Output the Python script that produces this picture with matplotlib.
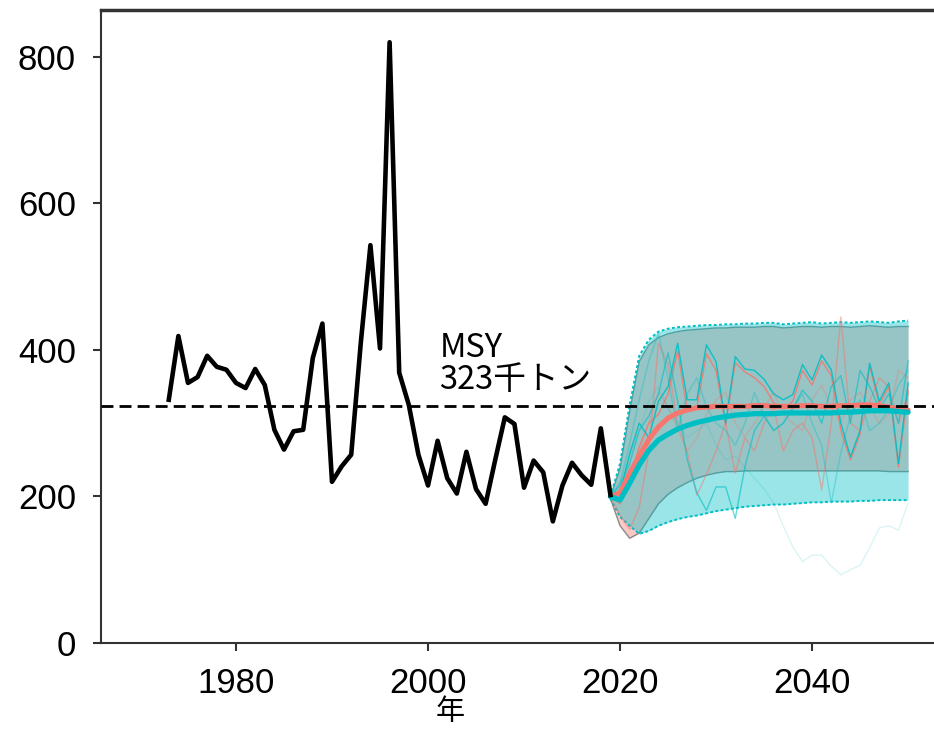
import matplotlib
matplotlib.use("Agg")
import matplotlib.pyplot as plt
import numpy as np

plt.rcParams['font.family'] = ['Liberation Sans', 'Noto Sans CJK JP', 'DejaVu Sans']

# historical catch (thousand t)
hist_years = list(range(1973, 2020))
hist_vals = [332, 419, 355, 363, 392, 377, 373, 355, 348, 374,
             352, 291, 264, 289, 291, 389, 436, 220, 241, 257,
             410, 543, 402, 820, 369, 325, 257, 215, 276, 225,
             204, 261, 210, 190, 250, 308, 299, 212, 249, 233,
             166, 215, 246, 229, 216, 293, 202]

msy = 323

# projections 2019-2050
proj_years = list(range(2019, 2051))
sal_med = [200, 205, 232, 255, 278, 295, 307, 314, 318, 321, 322, 323, 323, 323, 323, 324,
           324, 323, 323, 323, 324, 324, 323, 323, 324, 324, 325, 325, 324, 322, 320, 318]
sal_lo = [197, 160, 143, 150, 170, 190, 203, 212, 219, 225, 229, 232, 234, 234, 235, 235,
          235, 235, 235, 235, 235, 235, 235, 235, 235, 235, 235, 235, 235, 234, 234, 234]
sal_hi = [200, 238, 316, 384, 407, 417, 422, 425, 427, 428, 429, 430, 430, 431, 431, 431,
          432, 432, 430, 431, 432, 432, 431, 432, 432, 431, 432, 433, 432, 431, 432, 432]
teal_med = [200, 195, 218, 243, 263, 277, 285, 292, 297, 301, 304, 307, 309, 311, 312, 313,
            313, 313, 314, 314, 314, 314, 314, 314, 315, 315, 316, 317, 317, 317, 316, 315]
teal_lo = [197, 172, 160, 149, 153, 160, 165, 169, 172, 174, 177, 180, 182, 184, 186, 187,
           188, 189, 189, 190, 191, 192, 192, 193, 193, 193, 194, 194, 195, 195, 195, 195]
teal_hi = [200, 245, 325, 392, 414, 425, 429, 431, 432, 433, 434, 434, 435, 435, 436, 436,
           437, 437, 435, 436, 437, 438, 436, 437, 438, 437, 438, 439, 438, 437, 439, 440]

# a few individual simulation runs
sal_runs = [
    [200, 190, 225, 268, 300, 312, 340, 398, 318, 322, 395, 372, 298, 383, 370, 362,
     350, 328, 320, 330, 372, 352, 385, 365, 290, 250, 285, 378, 326, 350, 240, 345],
    [200, 175, 155, 185, 262, 409, 380, 300, 260, 202, 230, 262, 300, 232, 280, 262,
     300, 322, 262, 290, 300, 280, 209, 300, 445, 300, 290, 330, 362, 350, 300, 340],
    [200, 195, 222, 262, 302, 342, 322, 292, 262, 280, 312, 332, 342, 300, 282, 300,
     322, 342, 312, 300, 290, 332, 352, 322, 300, 332, 342, 322, 300, 312, 372, 362],
]
sal_alpha = [0.85, 0.5, 0.3]
teal_runs = [
    [200, 205, 258, 300, 280, 330, 350, 409, 332, 332, 407, 384, 300, 391, 374, 372,
     360, 340, 332, 339, 380, 359, 393, 373, 300, 254, 290, 382, 330, 355, 245, 355],
    [200, 215, 245, 290, 310, 340, 396, 330, 250, 205, 181, 213, 213, 170, 240, 290,
     310, 290, 300, 320, 345, 330, 300, 350, 365, 300, 372, 350, 320, 340, 300, 385],
    [200, 218, 272, 332, 385, 423, 360, 290, 340, 362, 322, 300, 290, 270, 300, 342,
     310, 290, 300, 320, 340, 300, 270, 191, 260, 310, 332, 290, 300, 320, 352, 372],
    [200, 220, 255, 290, 330, 350, 320, 300, 280, 290, 300, 270, 250, 255, 240, 225,
     210, 191, 160, 131, 111, 120, 120, 105, 93, 100, 106, 130, 157, 160, 154, 191],
]
teal_alpha = [0.9, 0.6, 0.35, 0.15]

salmon = '#F8766D'
teal = '#00BFC4'

fig = plt.figure(figsize=(9.34, 7.30), dpi=100)
ax = fig.add_axes([101 / 934, 87 / 730, 833 / 934, 633 / 730])

# bands
ax.fill_between(proj_years, sal_lo, sal_hi, color=salmon, alpha=0.4, lw=0, zorder=1)
ax.plot(proj_years, sal_lo, color='#8a8a8a', lw=1.0, zorder=1.5)
ax.plot(proj_years, sal_hi, color='#8a8a8a', lw=1.0, zorder=1.5)
ax.fill_between(proj_years, teal_lo, teal_hi, color=teal, alpha=0.4, lw=0, zorder=2)
ax.plot(proj_years, teal_lo, color=teal, lw=1.4, ls=(0, (1.5, 1.2)), zorder=2.5)
ax.plot(proj_years, teal_hi, color=teal, lw=1.4, ls=(0, (1.5, 1.2)), zorder=2.5)

for run, a in zip(sal_runs, sal_alpha):
    ax.plot(proj_years, run, color=salmon, lw=1.0, alpha=a, zorder=3)
for run, a in zip(teal_runs, teal_alpha):
    ax.plot(proj_years, run, color=teal, lw=1.0, alpha=a, zorder=3)

ax.plot(proj_years, sal_med, color=salmon, lw=3.6, zorder=4, solid_capstyle='round')
ax.plot(proj_years, teal_med, color=teal, lw=3.8, zorder=4.5, solid_capstyle='round')

ax.plot(hist_years, hist_vals, color='black', lw=3.3, zorder=5)
ax.axhline(msy, color='black', lw=2, ls=(0, (4.3, 2.2)), zorder=6)

ax.text(2001.2, 337, 'MSY\n323千トン', fontsize=23.5, family=['Noto Sans CJK JP'],
        ha='left', va='bottom', linespacing=1.0)

ax.set_xlim(1965.94, 2052.7)
ax.set_ylim(0, 864)
ax.set_xticks([1980, 2000, 2020, 2040])
ax.set_yticks([0, 200, 400, 600, 800])
ax.tick_params(axis='both', labelsize=25, length=6, width=1.5, color='#333333')
ax.tick_params(axis='y', pad=12)
ax.tick_params(axis='x', pad=11)

for s in ['left', 'bottom']:
    ax.spines[s].set_color('#333333')
    ax.spines[s].set_linewidth(1.5)
ax.spines['top'].set_color('#333333')
ax.spines['top'].set_linewidth(2.5)
ax.spines['right'].set_visible(False)

fig.text(450 / 934, 1 - 712 / 730, '年', fontsize=21, family=['Noto Sans CJK JP'],
         ha='center', va='center')

fig.savefig('out.png', dpi=100)
